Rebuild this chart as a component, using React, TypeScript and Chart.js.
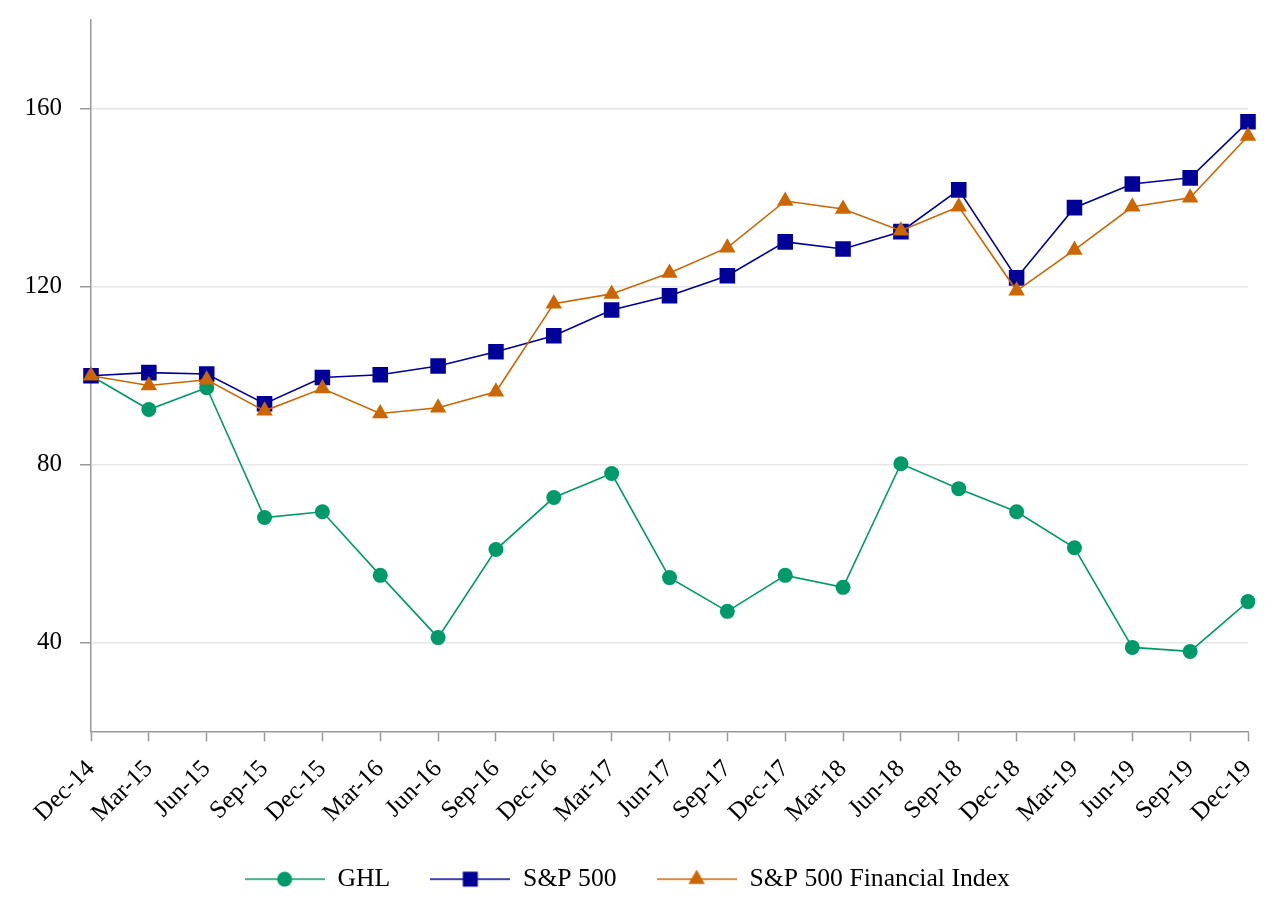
import React, { useEffect, useRef } from 'react';
import { Chart, registerables } from 'chart.js';

Chart.register(...registerables);

const categories = [
  'Dec-14', 'Mar-15', 'Jun-15', 'Sep-15', 'Dec-15', 'Mar-16', 'Jun-16', 'Sep-16',
  'Dec-16', 'Mar-17', 'Jun-17', 'Sep-17', 'Dec-17', 'Mar-18', 'Jun-18', 'Sep-18',
  'Dec-18', 'Mar-19', 'Jun-19', 'Sep-19', 'Dec-19',
];

const ghlValues = [
  100, 92.4, 97.3, 68.1, 69.4, 55.1, 41.1, 60.9, 72.6, 78.0, 54.6,
  47.0, 55.1, 52.4, 80.2, 74.6, 69.4, 61.3, 38.9, 38.0, 49.2,
];

const sp500Values = [
  100, 100.7, 100.4, 93.7, 99.6, 100.2, 102.2, 105.4, 109.0, 114.8, 118.0,
  122.5, 130.1, 128.5, 132.4, 141.8, 122.0, 137.8, 143.1, 144.5, 157.1,
];

const spFinValues = [
  100, 97.8, 99.1, 92.1, 97.1, 91.5, 92.8, 96.4, 116.2, 118.4, 123.1,
  128.8, 139.3, 137.5, 132.6, 138.0, 119.1, 128.3, 138.0, 140.0, 153.9,
];

const yTickValues = [40, 80, 120, 160];

const GREEN = '#009A6A';
const NAVY = '#000099';
const ORANGE = '#CC6600';
const FONT = "'Liberation Serif', 'DejaVu Serif', serif";

function legendIcon(color: string, style: string): HTMLCanvasElement {
  const c = document.createElement('canvas');
  const w = 80;
  const h = 22;
  c.width = w;
  c.height = h;
  const ctx = c.getContext('2d')!;
  ctx.strokeStyle = color;
  ctx.lineWidth = 1.6;
  ctx.beginPath();
  ctx.moveTo(0, h / 2);
  ctx.lineTo(w, h / 2);
  ctx.stroke();
  ctx.fillStyle = color;
  const cx = w / 2;
  const cy = h / 2;
  ctx.beginPath();
  if (style === 'circle') {
    ctx.arc(cx, cy, 7.5, 0, Math.PI * 2);
  } else if (style === 'rect') {
    ctx.rect(cx - 7.5, cy - 7.5, 15, 15);
  } else {
    const r = 9.5;
    ctx.moveTo(cx, cy - r);
    ctx.lineTo(cx + r * Math.sin(Math.PI * 2 / 3), cy + r / 2);
    ctx.lineTo(cx - r * Math.sin(Math.PI * 2 / 3), cy + r / 2);
    ctx.closePath();
  }
  ctx.fill();
  return c;
}

export default function App() {
  const ref = useRef<HTMLCanvasElement | null>(null);

  useEffect(() => {
    document.body.style.margin = '0';
    if (!ref.current) return;
    const styles = ['circle', 'rect', 'triangle'];
    const colors = [GREEN, NAVY, ORANGE];
    const icons = styles.map((s, i) => legendIcon(colors[i], s));

    const chart = new Chart(ref.current, {
      type: 'line',
      data: {
        labels: categories,
        datasets: [
          {
            label: 'GHL',
            data: ghlValues,
            borderColor: GREEN,
            backgroundColor: GREEN,
            pointBackgroundColor: GREEN,
            pointBorderColor: GREEN,
            pointStyle: 'circle',
            pointRadius: 7.5,
            pointBorderWidth: 0,
            borderWidth: 1.6,
            tension: 0,
            order: 3,
          },
          {
            label: 'S&P 500',
            data: sp500Values,
            borderColor: NAVY,
            backgroundColor: NAVY,
            pointBackgroundColor: NAVY,
            pointBorderColor: NAVY,
            pointStyle: 'rect',
            pointRadius: 11,
            pointBorderWidth: 0,
            borderWidth: 1.6,
            tension: 0,
            order: 2,
          },
          {
            label: 'S&P 500 Financial Index',
            data: spFinValues,
            borderColor: ORANGE,
            backgroundColor: ORANGE,
            pointBackgroundColor: ORANGE,
            pointBorderColor: ORANGE,
            pointStyle: 'triangle',
            pointRadius: 9.5,
            pointBorderWidth: 0,
            borderWidth: 1.6,
            tension: 0,
            order: 1,
          },
        ],
      },
      options: {
        animation: false,
        responsive: false,
        maintainAspectRatio: false,
        layout: { padding: { top: 20, right: 20, left: 6.5, bottom: 18 } },
        plugins: {
          tooltip: { enabled: false },
          legend: {
            position: 'bottom',
            labels: {
              usePointStyle: true,
              pointStyleWidth: 80,
              boxHeight: 22,
              padding: 40,
              color: '#000',
              font: { family: FONT, size: 25.7 },
              generateLabels: (ch: any) =>
                ch.data.datasets.map((ds: any, i: number) => ({
                  text: ds.label,
                  fillStyle: colors[i],
                  strokeStyle: colors[i],
                  fontColor: '#000',
                  lineWidth: 0,
                  pointStyle: icons[i],
                  hidden: false,
                  datasetIndex: i,
                })),
            },
          },
        },
        scales: {
          x: {
            type: 'category',
            offset: false,
            afterFit: (scale: any) => {
              scale.paddingLeft = 0;
              scale.paddingRight = 0;
              scale.height -= 15;
            },
            grid: {
              drawOnChartArea: false,
              drawTicks: true,
              tickLength: 10,
              tickColor: '#999',
              tickWidth: 1.5,
            },
            border: { color: '#999', width: 1.5 },
            ticks: {
              color: '#000',
              font: { family: FONT, size: 25 },
              maxRotation: 45,
              minRotation: 45,
              autoSkip: false,
              padding: 13,
            },
          },
          y: {
            min: 20,
            max: 180,
            afterBuildTicks: (scale: any) => {
              scale.ticks = yTickValues.map((v) => ({ value: v }));
            },
            afterFit: (scale: any) => {
              scale.paddingTop = 0;
              scale.paddingBottom = 0;
            },
            grid: {
              color: '#e6e6e6',
              lineWidth: 1.5,
              tickLength: 11,
              tickColor: '#999',
              tickWidth: 1.5,
            },
            border: { color: '#999', width: 1.5 },
            ticks: {
              color: '#000',
              font: { family: FONT, size: 25 },
              padding: 18,
            },
          },
        },
      },
    });
    return () => chart.destroy();
  }, []);

  return (
    <div style={{ width: 1268, height: 920 }}>
      <canvas ref={ref} width={1268} height={920} style={{ display: 'block' }} />
    </div>
  );
}
